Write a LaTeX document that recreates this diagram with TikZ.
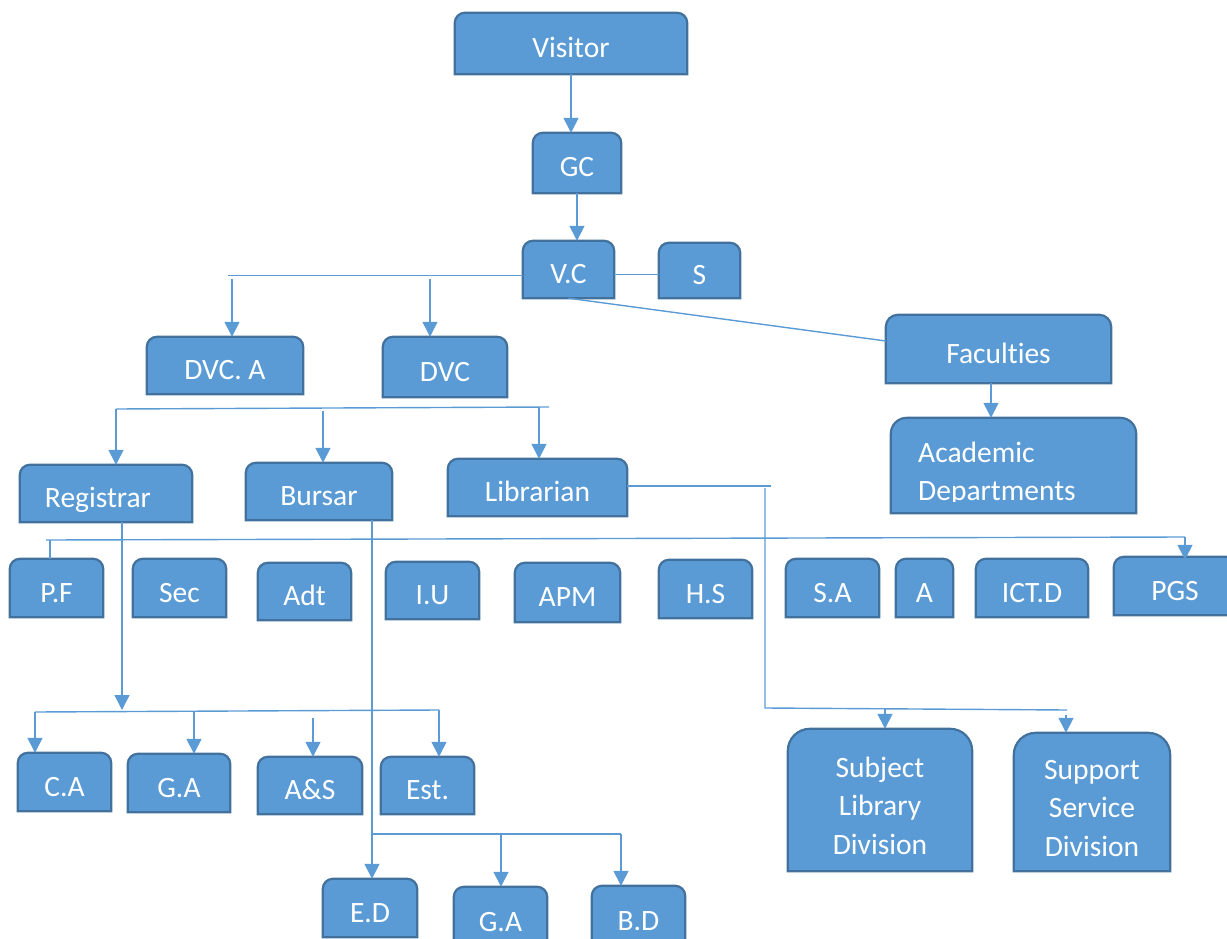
\documentclass[tikz,border=0pt]{standalone}
\usepackage{fontspec}
\setmainfont{Carlito}[Ligatures=NoCommon]
\usetikzlibrary{arrows.meta,backgrounds}
\definecolor{bfill}{HTML}{5B9BD5}
\definecolor{bline}{HTML}{41719C}
\definecolor{cline}{HTML}{5B9BD5}
\tikzset{
  box/.style={inner sep=0pt, text=white, font=\fontsize{29.5}{38.5}\selectfont},
  one/.style={text height=28pt, text depth=0pt},
  ln/.style={draw=cline, line width=1.4pt},
  arr/.style={ln, -{Triangle[width=15pt,length=15pt]}},
  boxshape/.style={fill=bfill, draw=bline, line width=2.2pt},
}
\newcommand{\bx}[7][one]{\node[box,#1,minimum width={#5-#3},minimum height={#6-#4}] (#2) at ({(#3+#5)/2},{(#4+#6)/2}) {#7};}
\begin{document}
\begin{tikzpicture}[x=1pt,y=-1pt]
\useasboundingbox (0,0) rectangle (1227,939);
% boxes
\bx{visitor}{455}{13}{687}{74}{Visitor}
\bx{gc}{533}{133}{621}{193}{GC}
\bx{vc}{523}{241}{614}{298}{V.C}
\bx{s}{659}{243}{740}{298}{S}
\bx{fac}{886}{315}{1111}{383}{Faculties}
\bx{acad}{891}{418}{1136}{513}{}
\bx{dvca}{147}{337}{303}{394}{DVC. A}
\bx{dvc}{383}{337}{507}{397}{DVC}
\bx{reg}{20}{465}{192}{522}{Registrar\hspace*{16pt}}
\bx{bursar}{246}{463}{392}{520}{Bursar}
\bx{lib}{448}{459}{627}{516}{Librarian}
\bx{pf}{10}{559}{103}{617}{P.F}
\bx{sec}{133}{559}{226}{617}{Sec}
\bx{adt}{258}{563}{351}{620}{Adt}
\bx{iu}{386}{562}{479}{619}{I.U}
\bx{apm}{515}{563}{620}{622}{APM}
\bx{hs}{659}{560}{752}{618}{H.S}
\bx{sa}{786}{559}{879}{617}{S.A}
\bx{aa}{896}{559}{953}{617}{A}
\bx{ict}{976}{559}{1088}{617}{ICT.D}
\bx{pgs}{1114}{557}{1236}{615}{PGS}
\bx{ca}{18}{753}{111}{811}{C.A}
\bx{ga}{128}{754}{230}{812}{G.A}
\bx{as}{258}{757}{362}{814}{A\&S}
\bx{est}{381}{757}{474}{814}{Est.}
\bx[align=center]{sld}{788}{729}{972}{871}{\rule{0pt}{32pt}Subject\\Library\\Division}
\bx[align=center]{ssd}{1014}{733}{1170}{871}{\rule{0pt}{32pt}Support\\Service\\Division}
\bx{ed}{323}{879}{417}{937}{E.D}
\bx{gab}{454}{887}{547}{947}{G.A}
\bx{bd}{592}{886}{685}{947}{B.D}
\begin{scope}
\clip (acad.north west) rectangle (1136,501);
\node[box, anchor=base west] (acadA) at (918,462) {Academic};
\node[box, anchor=base west] (acadB) at (918,500) {Departments};
\end{scope}
% box shapes
\begin{scope}[on background layer]
\foreach \n/\r in {visitor/10,gc/10,vc/10,s/10,fac/12,acad/16,dvca/10,dvc/10,reg/10,bursar/10,lib/10,
  pf/10,sec/10,adt/10,iu/10,apm/10,hs/10,sa/10,aa/10,ict/10,pgs/10,ca/10,ga/10,as/10,est/10,
  sld/22,ssd/22,ed/10,gab/10,bd/10}
  \draw[boxshape] (\n.south west) -- ([yshift=-\r pt]\n.north west)
    arc[start angle=180,end angle=90,radius=\r pt] -- ([xshift=-\r pt]\n.north east)
    arc[start angle=90,end angle=0,radius=\r pt] -- (\n.south east) -- cycle;
\end{scope}
% connectors
\draw[arr] (visitor.south) -- (visitor.south |- gc.north);
\draw[arr] (gc.south) -- (gc.south |- vc.north);
\draw[ln] ([yshift=-5pt]vc.east) -- ([yshift=-5pt]vc.east -| s.west);
\draw[ln] (vc.south) -- ([yshift=8pt]fac.west);
\coordinate (f1) at (991,383);
\draw[arr] (f1 |- fac.south) -- (f1 |- acad.north);
% V.C to DVCs
\coordinate (a1) at (228,275.5);
\draw[ln] (vc.west |- a1) -- (a1);
\coordinate (a2) at (232,279);
\draw[arr] (a2) -- (a2 |- dvca.north);
\coordinate (a3) at (430,279);
\draw[arr] (a3) -- (a3 |- dvc.north);
% line to Registrar, Bursar, Librarian
\coordinate (b1) at (116,409);
\coordinate (b2) at (549,407);
\draw[ln] (b1) -- (b2);
\draw[arr] (b1) -- (b1 |- reg.north);
\coordinate (b3) at (323,411);
\draw[arr] (b3) -- (b3 |- bursar.north);
\coordinate (b4) at (539,407);
\draw[arr] (b4) -- (b4 |- lib.north);
% long line over row
\coordinate (c1) at (46,540);
\coordinate (c2) at (1185,537);
\draw[ln] (c1) -- (c2);
\coordinate (c3) at (50,540);
\draw[ln] (c3) -- (c3 |- pf.north);
\draw[arr, shorten >=-3pt] (c2) -- (c2 |- pgs.north);
% Registrar branch
\coordinate (d1) at (122,710);
\draw[arr] (d1 |- reg.south) -- (d1);
\coordinate (d2) at (35,712);
\coordinate (d3) at (439,710);
\draw[ln] (d2) -- (d3);
\draw[arr] (d2) -- (d2 |- ca.north);
\coordinate (d4) at (194,711);
\draw[arr] (d4) -- (d4 |- ga.north);
\coordinate (d5) at (313,718);
\draw[arr] (d5) -- (d5 |- as.north);
\draw[arr] (d3) -- (d3 |- est.north);
% Bursar branch
\coordinate (e1) at (372,834);
\draw[arr] (e1 |- bursar.south) -- (e1 |- ed.north);
\coordinate (e2) at (621,834);
\draw[ln] (e1) -- (e2);
\coordinate (e3) at (501,834);
\draw[arr] (e3) -- (e3 |- gab.north);
\draw[arr] (e2) -- (e2 |- bd.north);
% Librarian branch
\coordinate (g1) at (771,486);
\draw[ln] (lib.east |- g1) -- (g1);
\coordinate (g2) at (765,488);
\coordinate (g3) at (765,708);
\coordinate (g4) at (1067,710);
\draw[ln] (g2) -- (g3) -- (g4);
\coordinate (g5) at (885,709);
\draw[arr] (g5) -- (g5 |- sld.north);
\coordinate (g6) at (1066,715);
\draw[arr] (g6) -- (g6 |- ssd.north);
\end{tikzpicture}
\end{document}
